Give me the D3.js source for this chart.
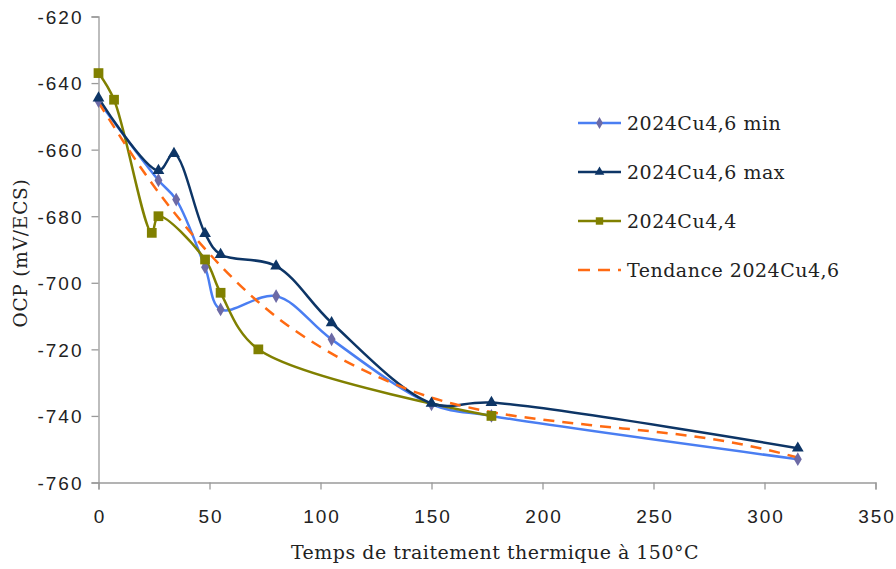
<!DOCTYPE html>
<html><head><meta charset="utf-8">
<script src="https://cdn.jsdelivr.net/npm/d3@7"></script>
<style>
html,body{margin:0;padding:0;background:#fff;}
svg{display:block;}
</style></head>
<body>
<svg id="chart" width="896" height="569"></svg>
<script>
// ---- data ----
const minX = [0, 27, 35, 48, 55, 80, 105, 150, 177, 315];
const minY = [-645.4, -669.2, -675, -695.3, -708, -704, -717, -736.5, -740, -753];
const maxX = [0, 27, 34, 48, 55, 80, 105, 150, 177, 315];
const maxY = [-644.5, -666.3, -661.2, -685.2, -691.5, -695, -712, -736.2, -736, -749.7];
const cu44X = [0, 7, 24, 27, 48, 55, 72, 177];
const cu44Y = [-637, -645, -685, -680, -693, -703, -720, -740];
const trendX = [0, 25, 50, 75, 100, 125, 150, 175, 200, 225, 250, 275, 300, 315];
const trendY = [-645.8, -671, -691.3, -707.5, -719.3, -728, -734.5, -738.6, -741.1, -743, -744.7, -746.8, -750, -752.5];
const xTicks = [0, 50, 100, 150, 200, 250, 300, 350];
const yTicks = [-620, -640, -660, -680, -700, -720, -740, -760];
const seriesNames = ["2024Cu4,6 min", "2024Cu4,6 max", "2024Cu4,4", "Tendance 2024Cu4,6"];
const xTitle = "Temps de traitement thermique à 150°C";
const yTitle = "OCP (mV/ECS)";

// ---- setup ----
const svg = d3.select("#chart");
const x = d3.scaleLinear().domain([0, 350]).range([98.5, 875.5]);
const y = d3.scaleLinear().domain([-760, -620]).range([482.5, 16.5]);

const axisColor = "#9a9a9a";
const tickFont = "'Liberation Sans', Arial, sans-serif";
const serifFont = "'DejaVu Serif', serif";

// y axis
const gy = svg.append("g").attr("transform", `translate(${x(0)},0)`)
  .call(d3.axisLeft(y).tickValues(yTicks).tickSize(7).tickPadding(10).tickFormat(d => String(d)));
// x axis
const gx = svg.append("g").attr("transform", `translate(0,${y(-760)})`)
  .call(d3.axisBottom(x).tickValues(xTicks).tickSize(7).tickFormat(d => String(d)));

[gx, gy].forEach(g => {
  g.select(".domain").attr("stroke", axisColor).attr("stroke-width", 1.3);
  g.selectAll(".tick line").attr("stroke", axisColor).attr("stroke-width", 1.3);
  g.selectAll(".tick text").attr("fill", "#222").style("font-family", tickFont)
    .style("font-size", "19px").style("letter-spacing", "2px");
});
gy.selectAll(".tick text").attr("dy", "0.36em").attr("dx", "2px");
gx.selectAll(".tick text").attr("y", 40).attr("dy", null).attr("dx", "1px");

// titles
svg.append("text").attr("x", 495).attr("y", 559).attr("text-anchor", "middle")
  .style("font-family", serifFont).style("font-size", "19px").attr("fill", "#222")
  .style("letter-spacing", "0.5px").text(xTitle);
svg.append("text").attr("transform", "translate(27,253) rotate(-90)").attr("text-anchor", "middle")
  .style("font-family", serifFont).style("font-size", "18.5px").attr("fill", "#222")
  .style("letter-spacing", "0.8px").text(yTitle);

// ---- series ----
const curve = d3.curveCatmullRom.alpha(0.5);
function pts(xs, ys) { return xs.map((v, i) => [v, ys[i]]); }
const line = d3.line().x(d => x(d[0])).y(d => y(d[1])).curve(curve);

const trend = pts(trendX, trendY);
const minD = pts(minX, minY);
const maxD = pts(maxX, maxY);
const cuD = pts(cu44X, cu44Y);

const cMinLine = "#4a7ef2", cMinMark = "#6c6aa6";
const cMax = "#0d3566";
const cOlive = "#808000";
const cTrend = "#ff6a12";

svg.append("path").attr("d", line(minD)).attr("fill", "none").attr("stroke", cMinLine).attr("stroke-width", 2.5);
svg.append("path").attr("d", line(cuD)).attr("fill", "none").attr("stroke", cOlive).attr("stroke-width", 2.5);
svg.append("path").attr("d", line(maxD)).attr("fill", "none").attr("stroke", cMax).attr("stroke-width", 2.5);
svg.append("path").attr("d", d3.line().x(d => x(d[0])).y(d => y(d[1])).curve(d3.curveMonotoneX)(trend))
  .attr("fill", "none").attr("stroke", cTrend).attr("stroke-width", 2.5).attr("stroke-dasharray", "11,8");

function markers(data, type, size, fill) {
  svg.append("g").selectAll("path").data(data).join("path")
    .attr("transform", d => `translate(${x(d[0])},${y(d[1])})`)
    .attr("d", d3.symbol().type(type).size(size)).attr("fill", fill);
}
markers(minD, d3.symbolDiamond, 55, cMinMark);
markers(maxD, d3.symbolTriangle, 60, cMax);
markers(cuD, d3.symbolSquare, 95, cOlive);

// ---- legend ----
const legY = [123, 172, 221, 270];
const leg = svg.append("g");
const legStyles = [
  {stroke: cMinLine, mark: d3.symbolDiamond, mfill: cMinMark, msize: 40},
  {stroke: cMax, mark: d3.symbolTriangle, mfill: cMax, msize: 40},
  {stroke: cOlive, mark: d3.symbolSquare, mfill: cOlive, msize: 55},
  {stroke: cTrend, mark: null, dash: "12,8"}
];
seriesNames.forEach((name, i) => {
  const s = legStyles[i];
  const g = leg.append("g").attr("transform", `translate(0,${legY[i]})`);
  g.append("line").attr("x1", 578).attr("x2", 621).attr("y1", 0).attr("y2", 0)
    .attr("stroke", s.stroke).attr("stroke-width", 2.5).attr("stroke-dasharray", s.dash || null);
  if (s.mark) g.append("path").attr("transform", "translate(599.5,0)")
    .attr("d", d3.symbol().type(s.mark).size(s.msize)).attr("fill", s.mfill);
  g.append("text").attr("x", 627).attr("y", 7).style("font-family", serifFont)
    .style("font-size", "19px").style("letter-spacing", "0.5px").attr("fill", "#222").text(name);
});
</script>
</body></html>
